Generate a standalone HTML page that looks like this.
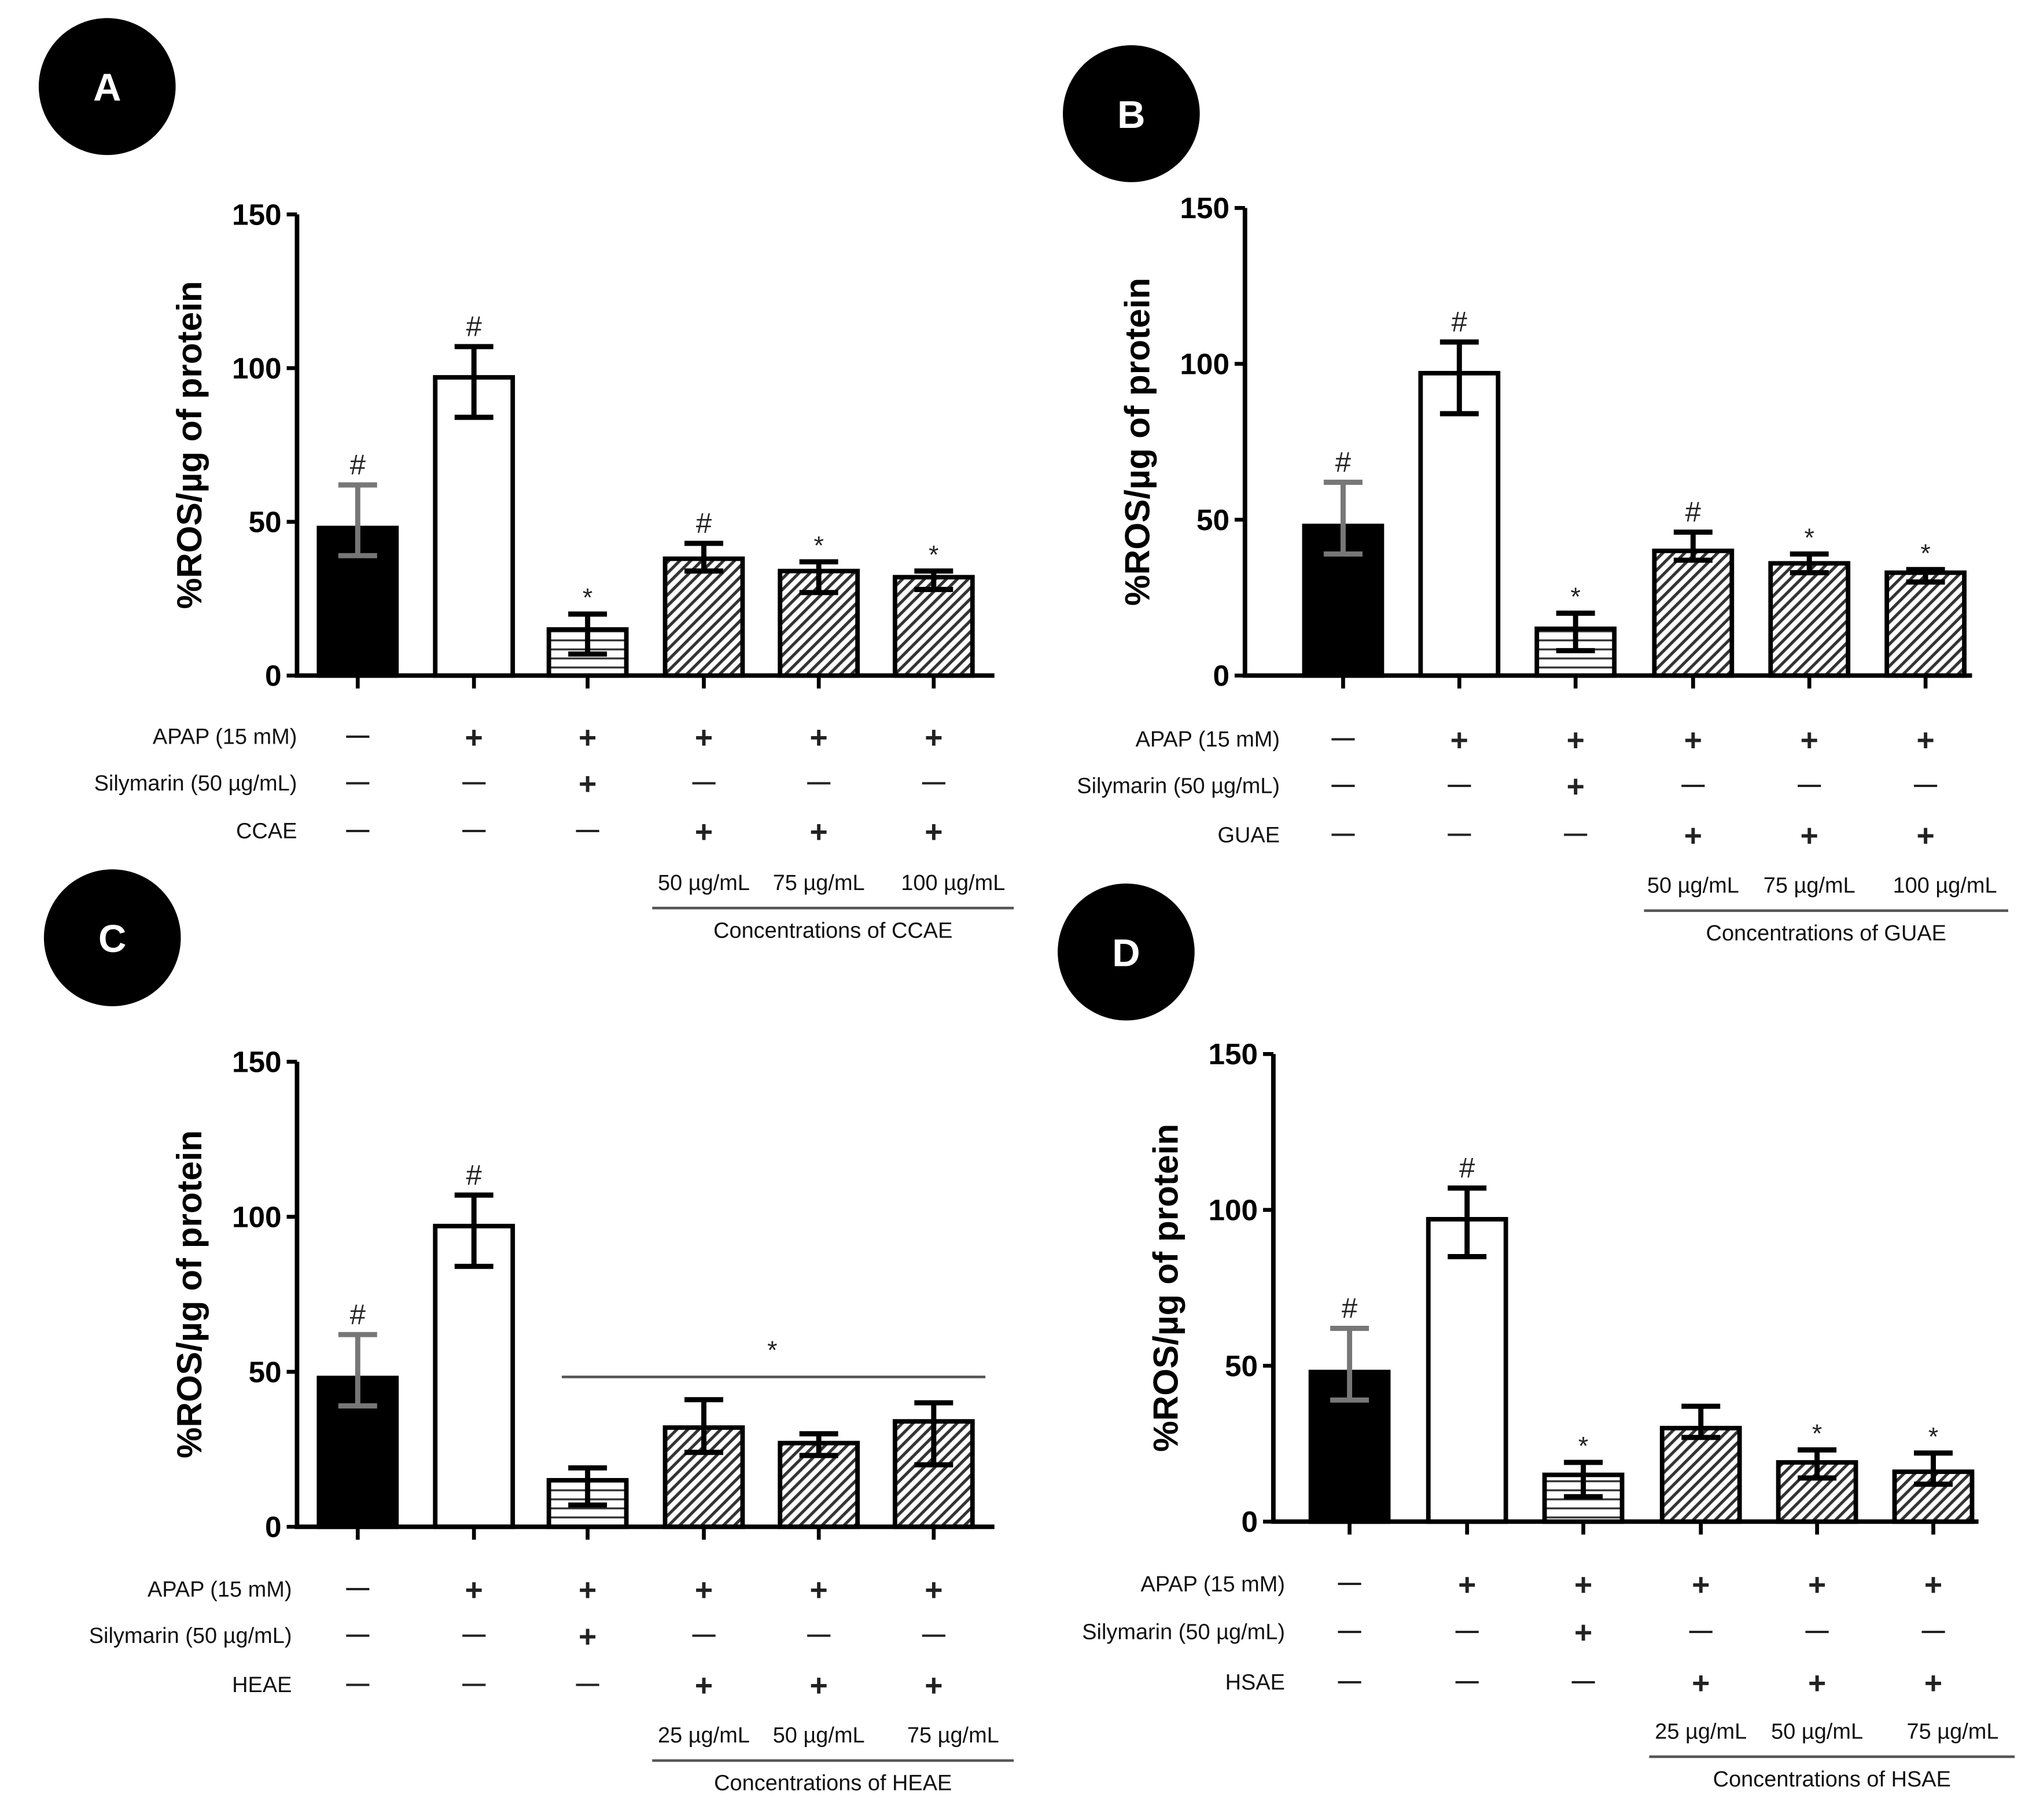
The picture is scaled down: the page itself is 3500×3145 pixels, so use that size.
<!DOCTYPE html>
<html><head><meta charset="utf-8"><style>
html,body{margin:0;padding:0;background:#fff;}
svg{display:block;font-family:"Liberation Sans",Arial,sans-serif;}
</style></head><body>
<svg id="fig" width="3500" height="3145" viewBox="0 0 1568 1409" preserveAspectRatio="none" xmlns="http://www.w3.org/2000/svg">
<defs>
<pattern id="diag" patternUnits="userSpaceOnUse" width="6" height="6" patternTransform="rotate(45)">
<rect width="6" height="6" fill="#fff"/><rect width="2.3" height="6" fill="#333"/></pattern>
<pattern id="horiz" patternUnits="userSpaceOnUse" width="10" height="7">
<rect width="10" height="7" fill="#fff"/><rect y="5" width="10" height="1.5" fill="#333"/></pattern>
</defs>
</svg>
<script>
const NS='http://www.w3.org/2000/svg';
const svg=document.getElementById('fig');
// data
const yTicks=[0,50,100,150];
const rowLabels=['APAP (15 mM)','Silymarin (50 µg/mL)'];
const apapRow=['—','+','+','+','+','+'];
const silyRow=['—','—','+','—','—','—'];
const extRow=['—','—','—','+','+','+'];
const aValues=[48,97,15,38,34,32];
const aErrHi=[62,107,20,43,37,34];
const aErrLo=[39,84,7,34,27,28];
const aMarks=['#','#','*','#','*','*'];
const bValues=[48,97,15,40,36,33];
const bErrHi=[62,107,20,46,39,34];
const bErrLo=[39,84,8,37,33,30];
const bMarks=['#','#','*','#','*','*'];
const cValues=[48,97,15,32,27,34];
const cErrHi=[62,107,19,41,30,40];
const cErrLo=[39,84,7,24,23,20];
const cMarks=['#','#','','','',''];
const dValues=[48,97,15,30,19,16];
const dErrHi=[62,107,19,37,23,22];
const dErrLo=[39,85,8,27,14,12];
const dMarks=['#','#','*','','*','*'];
const aConc=['50 µg/mL','75 µg/mL','100 µg/mL'];
const cConc=['25 µg/mL','50 µg/mL','75 µg/mL'];

function el(tag,attrs,parent,text){const e=document.createElementNS(NS,tag);for(const k in attrs)e.setAttribute(k,attrs[k]);if(text!==undefined)e.textContent=text;(parent||svg).appendChild(e);return e;}

function panel(p){
  const g=el('g',{});
  
  
  const y=v=>p.y0-(v/150)*(p.y0-p.y150);
  const c=el('circle',{cx:p.cx,cy:p.cy,r:53,fill:'#000'},g);
  
  
  const lt=el('text',{x:p.cx,y:p.cy+11,'text-anchor':'middle','font-size':30,'font-weight':'bold',fill:'#fff'},g,p.id);
  
  
  p.vals.forEach((v,i)=>{
    const x=p.xs[i];const w=60;
    const fill=i===0?'#000':(i===1?'#fff':(i===2?'url(#horiz)':'url(#diag)'));
    const r=el('rect',{x:x-w/2,y:y(v),width:w,height:p.y0-y(v),fill:fill,stroke:'#000','stroke-width':3.5},g);
    
    
    const col=i===0?'#777':'#000';
    const eb=el('path',{d:`M${x},${y(p.hi[i])}V${y(p.lo[i])}M${x-15},${y(p.hi[i])}H${x+15}M${x-15},${y(p.lo[i])}H${x+15}`,stroke:col,'stroke-width':4,fill:'none'},g);
    
    
    if(p.marks[i]){
      const m=el('text',{x:x,y:y(p.hi[i])-(p.marks[i]==='#'?8:6),'text-anchor':'middle','font-size':p.marks[i]==='#'?22:20,fill:'#222'},g,p.marks[i]);
      
      
    }
    el('line',{x1:x,x2:x,y1:p.y0,y2:p.y0+10,stroke:'#000','stroke-width':3},g);
  });
  const ax=el('path',{d:`M${p.ax},${p.y150}V${p.y0}H${p.xend}`,stroke:'#000','stroke-width':3.5,fill:'none'},g);
  
  
  yTicks.forEach(t=>{
    el('line',{x1:p.ax-8,x2:p.ax,y1:y(t),y2:y(t),stroke:'#000','stroke-width':3},g);
    const tl=el('text',{x:p.ax-12,y:y(t)+8,'text-anchor':'end','font-size':23,'font-weight':'bold'},g,t);
    
    
  });
  const ty=(p.y0+p.y150)/2;
  const tt=el('text',{x:p.ax-74,y:ty,'text-anchor':'middle','font-size':27,'font-weight':'bold',transform:`rotate(-90 ${p.ax-74} ${ty})`},g,'%ROS/µg of protein');
  
  
  const labels=[rowLabels[0],rowLabels[1],p.ext];
  const rows=[apapRow,silyRow,extRow];
  labels.forEach((L,r)=>{
    const rl=el('text',{x:p.lx,y:p.rows[r]+6,'text-anchor':'end','font-size':17,fill:'#111'},g,L);
    
    
    rows[r].forEach((s,i)=>{
      const st=el('text',{x:p.xs[i],y:p.rows[r]+(s==='+'?9:5),'text-anchor':'middle','font-size':s==='+'?24:18,'font-weight':'bold',fill:'#222'},g,s);
      
      
    });
  });
  p.conc.forEach((cn,i)=>{
    const ct=el('text',{x:p.xs[i+3]+(i===2?15:0),y:p.rows[3]+6,'text-anchor':'middle','font-size':17,fill:'#111'},g,cn);
    
    
  });
  el('line',{x1:p.l1,x2:p.l2,y1:p.rows[3]+20,y2:p.rows[3]+20,stroke:'#555','stroke-width':2},g);
  const cc=el('text',{x:(p.l1+p.l2)/2,y:p.rows[3]+43,'text-anchor':'middle','font-size':17,fill:'#111'},g,'Concentrations of '+p.ext);
  
  
  if(p.bracket){
    const bl=el('line',{x1:435,x2:763,y1:1066,y2:1066,stroke:'#555','stroke-width':2},g);
    
    
    el('text',{x:598,y:1052,'text-anchor':'middle','font-size':20,fill:'#222'},g,'*');
  }
}
panel({id:'A',cx:83,cy:67,ax:230,y150:166,y0:523,xend:770,xs:[277,367,455,545,634,723],vals:aValues,hi:aErrHi,lo:aErrLo,marks:aMarks,ext:'CCAE',lx:230,rows:[570,606,643,683],conc:aConc,l1:505,l2:785});
panel({id:'B',cx:876,cy:88,ax:964,y150:161,y0:523,xend:1527,xs:[1040,1130,1220,1311,1401,1491],vals:bValues,hi:bErrHi,lo:bErrLo,marks:bMarks,ext:'GUAE',lx:991,rows:[572,608,646,685],conc:aConc,l1:1273,l2:1555});
panel({id:'C',cx:87,cy:726,ax:230,y150:822,y0:1182,xend:770,xs:[277,367,455,545,634,723],vals:cValues,hi:cErrHi,lo:cErrLo,marks:cMarks,ext:'HEAE',lx:226,rows:[1230,1266,1304,1343],conc:cConc,l1:505,l2:785,bracket:true});
panel({id:'D',cx:872,cy:737,ax:986,y150:816,y0:1178,xend:1532,xs:[1045,1136,1226,1317,1407,1497],vals:dValues,hi:dErrHi,lo:dErrLo,marks:dMarks,ext:'HSAE',lx:995,rows:[1226,1263,1302,1340],conc:cConc,l1:1277,l2:1560});
</script>
</body></html>
